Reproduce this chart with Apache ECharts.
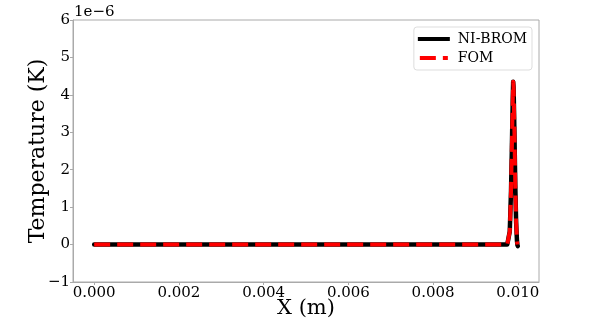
<!DOCTYPE html>
<html><head><meta charset="utf-8">
<script src="https://cdn.jsdelivr.net/npm/echarts@6/dist/echarts.min.js"></script>
<style>html,body{margin:0;padding:0;background:#fff}#c{width:598px;height:318px}</style>
</head><body><div id="c"></div>
<script>
// X positions (m)
var xValues = [0.0, 0.0005, 0.0050, 0.0097, 0.00975, 0.00978, 0.00981, 0.00984, 0.00986, 0.00988, 0.00989, 0.00990, 0.00992, 0.00994, 0.00996, 0.00998, 0.00999, 0.01000];
// Temperature in units of 1e-6 K
var bromValues = [0, 0, 0, 0, 0, 0.05, 0.35, 1.45, 2.6, 3.85, 4.35, 4.2, 3.0, 1.6, 0.6, 0.1, -0.01, -0.04];
var fomValues  = [0, 0, 0, 0, 0, 0.05, 0.35, 1.45, 2.6, 3.85, 4.35, 4.2, 3.0, 1.6, 0.6, 0.1, 0.0, 0.0];
var yScaleText = '1e\u22126';
var xTicks = [0.000, 0.002, 0.004, 0.006, 0.008, 0.010];
var yTicks = [-1, 0, 1, 2, 3, 4, 5, 6];
var seriesNames = ['NI-BROM', 'FOM'];

function pairs(xs, ys){ return xs.map(function(x,i){ return [x, ys[i]]; }); }
var FONT = 'DejaVu Serif';
var chart = echarts.init(document.getElementById('c'), null, {renderer:'canvas'});
chart.setOption({
  animation:false,
  backgroundColor:'#fff',
  grid:{left:73, right:59, top:20, bottom:36, show:true, borderColor:'#aaaaaa', borderWidth:1,
        containLabel:false, outerBoundsMode:'none'},
  legend:{
    right:66, top:27, orient:'vertical', itemWidth:32, itemHeight:4, itemGap:5,
    padding:[5,5,5,4],
    backgroundColor:'#fff', borderColor:'#dddddd', borderWidth:1, borderRadius:3,
    textStyle:{fontFamily:FONT, fontSize:14, color:'#000', padding:[0,0,0,3]},
    data:[{name:seriesNames[0], icon:'rect', itemStyle:{color:'#000'}},
          {name:seriesNames[1], icon:'path://M0,0 H16 V4 H0 Z M23,0 H28 V4 H23 Z', itemStyle:{color:'#ff0000'}}]
  },
  xAxis:{
    type:'value', min:-0.0005, max:0.0105,
    name:'X (m)', nameLocation:'middle', nameGap:16, nameMoveOverlap:false,
    nameTextStyle:{fontFamily:FONT, fontSize:21, color:'#000', verticalAlign:'top'},
    axisLine:{show:true, onZero:false, lineStyle:{color:'#aaaaaa', width:1}},
    axisTick:{show:true, inside:false, length:3, customValues:xTicks, lineStyle:{color:'#aaaaaa'}},
    axisLabel:{customValues:xTicks, fontFamily:FONT, fontSize:15, color:'#000', margin:4,
      formatter:function(v){ return v.toFixed(3); }},
    splitLine:{show:false}
  },
  yAxis:{
    type:'value', min:-1, max:6, interval:1,
    name:'Temperature (K)', nameLocation:'middle', nameGap:24, nameRotate:90, nameMoveOverlap:false,
    nameTextStyle:{fontFamily:FONT, fontSize:22, color:'#000'},
    axisLine:{show:true, onZero:false, lineStyle:{color:'#aaaaaa', width:1}},
    axisTick:{show:true, inside:false, length:3, lineStyle:{color:'#aaaaaa'}},
    axisLabel:{fontFamily:FONT, fontSize:15, color:'#000', margin:3,
      formatter:function(v){ return v < 0 ? '\u2212' + Math.abs(v) : String(v); }},
    splitLine:{show:false}
  },
  graphic:[{type:'text', left:74, top:5, style:{text:yScaleText, fontFamily:FONT, fontSize:15, fill:'#000'}}],
  series:[
    {name:seriesNames[0], type:'line', data:pairs(xValues,bromValues), showSymbol:false, symbol:'none',
     lineStyle:{color:'#000', width:4.5, cap:'round', join:'round'}, itemStyle:{color:'#000'}, z:2},
    {name:seriesNames[1], type:'line', data:pairs(xValues,fomValues), showSymbol:false, symbol:'none',
     lineStyle:{color:'#ff0000', width:4, type:[16,7], cap:'butt', join:'round'}, itemStyle:{color:'#ff0000'}, z:3}
  ]
});
</script></body></html>
